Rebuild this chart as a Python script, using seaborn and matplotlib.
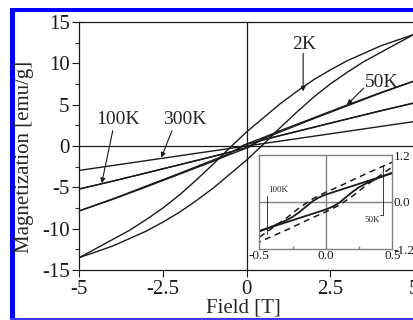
import matplotlib
matplotlib.use("Agg")
import matplotlib.pyplot as plt
import seaborn as sns
import pandas as pd
from matplotlib.patches import Rectangle
from matplotlib.ticker import MultipleLocator, FixedLocator

# ---------------- data ----------------
field_2k_down = [5, 4.5, 4, 3.5, 3, 2.5, 2, 1.5, 1, 0.5, 0, -0.5, -1, -1.5, -2, -2.5, -3, -3.5, -4, -4.5, -5]
m_2k_down = [13.5, 12.8, 12.1, 11.2, 10.3, 9.2, 8.0, 6.6, 5.1, 3.4, 1.7, -0.2, -2.2, -4.1, -5.9, -7.5, -8.9, -10.2, -11.3, -12.4, -13.5]
field_2k_up = [-5, -4.5, -4, -3.5, -3, -2.5, -2, -1.5, -1, -0.5, 0, 0.5, 1, 1.5, 2, 2.5, 3, 3.5, 4, 4.5, 5]
m_2k_up = [-13.5, -12.8, -12.1, -11.2, -10.3, -9.2, -8.0, -6.6, -5.1, -3.4, -1.7, 0.2, 2.2, 4.1, 5.9, 7.5, 8.9, 10.2, 11.3, 12.4, 13.5]

field_50k_down = [5, 4, 3, 2, 1, 0.5, 0.3, 0.1, 0, -0.1, -0.2, -0.3, -0.5, -1, -2, -3, -4, -5]
m_50k_down = [7.85, 6.45, 4.95, 3.4, 1.85, 1.02, 0.72, 0.4, 0.25, 0.08, -0.15, -0.42, -0.9, -1.7, -3.3, -4.85, -6.4, -7.85]
field_50k_up = [-5, -4, -3, -2, -1, -0.5, -0.3, -0.1, 0, 0.1, 0.2, 0.3, 0.5, 1, 2, 3, 4, 5]
m_50k_up = [-7.85, -6.45, -4.95, -3.4, -1.85, -1.02, -0.72, -0.4, -0.25, -0.08, 0.15, 0.42, 0.9, 1.7, 3.3, 4.85, 6.4, 7.85]

field_100k_down = [5, 4, 3, 2, 1, 0.5, 0.4, 0.3, 0.2, 0.1, 0, -0.05, -0.1, -0.15, -0.2, -0.25, -0.3, -0.4, -0.5, -1, -2, -3, -4, -5]
m_100k_down = [5.2, 4.25, 3.25, 2.25, 1.25, 0.74, 0.63, 0.52, 0.41, 0.30, 0.19, 0.12, 0.02, -0.12, -0.26, -0.38, -0.47, -0.62, -0.75, -1.27, -2.27, -3.27, -4.25, -5.2]
field_100k_up = [-5, -4, -3, -2, -1, -0.5, -0.4, -0.3, -0.2, -0.1, 0, 0.05, 0.1, 0.15, 0.2, 0.25, 0.3, 0.4, 0.5, 1, 2, 3, 4, 5]
m_100k_up = [-5.2, -4.25, -3.25, -2.25, -1.25, -0.74, -0.63, -0.52, -0.41, -0.30, -0.19, -0.12, -0.02, 0.12, 0.26, 0.38, 0.47, 0.62, 0.75, 1.27, 2.27, 3.27, 4.25, 5.2]

field_300k = [-5, 0, 5]
m_300k = [-2.95, 0.0, 2.95]

main_xticks = [-5, -2.5, 0, 2.5, 5]
main_xticklabels = ["-5", "-2.5", "0", "2.5", "5"]
main_yticks = [-15, -10, -5, 0, 5, 10, 15]
inset_xticks = [-0.5, 0.0, 0.5]
inset_xticklabels = ["-0.5", "0.0", "0.5"]
inset_yticks = [-1.2, 0.0, 1.2]
inset_yticklabels = ["-1.2", "0.0", "1.2"]

# ---------------- style ----------------
sns.set_theme(style="white")
plt.rcParams["font.family"] = ["Liberation Serif", "DejaVu Serif"]
plt.rcParams["axes.unicode_minus"] = False

W, H = 414, 320
fig = plt.figure(figsize=(W / 100, H / 100), dpi=100)
fig.patch.set_facecolor("white")

# blue frame pieces
fig.patches.append(Rectangle((10 / W, 0), 5 / W, 1 - 8 / H, transform=fig.transFigure,
                             facecolor="#0000ff", edgecolor="none"))
fig.patches.append(Rectangle((10 / W, 1 - 12 / H), 1, 4 / H, transform=fig.transFigure,
                             facecolor="#0000ff", edgecolor="none"))
fig.patches.append(Rectangle((10 / W, 0.5 / H), 1, 1.2 / H, transform=fig.transFigure,
                             facecolor="#3a3aff", edgecolor="none"))

# main axes: x=-5 at px 79.3, x=5 at px ~413.5; y=15 at 22, y=-15 at 270
ax = fig.add_axes([79.3 / W, 50 / H, 334.6 / W, 248 / H])
ax.set_facecolor("white")

def draw(a, fx, my, **kw):
    sns.lineplot(x=fx, y=my, sort=False, estimator=None, ax=a, color="k", **kw)

ax.axhline(0, color="k", lw=0.9, zorder=1)
ax.axvline(0, color="k", lw=0.9, zorder=1)
for fx, my in [(field_2k_down, m_2k_down), (field_2k_up, m_2k_up),
               (field_50k_down, m_50k_down), (field_50k_up, m_50k_up),
               (field_100k_down, m_100k_down), (field_100k_up, m_100k_up),
               (field_300k, m_300k)]:
    draw(ax, fx, my, lw=1.0)

ax.set_xlim(-5, 5)
ax.set_ylim(-15, 15)
ax.set_xticks(main_xticks)
ax.set_xticklabels(main_xticklabels)
ax.set_yticks(main_yticks)
ax.set_yticklabels([str(v) for v in main_yticks])
ax.yaxis.set_minor_locator(MultipleLocator(2.5))
ax.tick_params(axis="both", which="major", direction="out", length=5, width=0.8,
               labelsize=15, pad=2, colors="k", bottom=True, left=True)
ax.tick_params(axis="y", which="minor", direction="out", length=3, width=0.8, left=True)
for s in ["left", "bottom", "top", "right"]:
    ax.spines[s].set_color("k")
    ax.spines[s].set_linewidth(0.9)
ax.set_xlabel("")
ax.set_ylabel("")

fig.text(243 / W, 1 - 308 / H, "Field [T]", ha="center", va="center", fontsize=15)
fig.text(25 / W, 1 - 157 / H, "Magnetization [emu/g]", ha="center", va="center",
         rotation=90, fontsize=15)

arrow = dict(arrowstyle="-|>", color="k", lw=0.8, mutation_scale=7, shrinkA=0, shrinkB=0)
ax.text(1.73, 12.3, "2K", ha="center", va="center", fontsize=14)
ax.annotate("", xy=(1.69, 6.6), xytext=(1.69, 11.2), arrowprops=arrow)
ax.text(4.03, 7.7, "50K", ha="center", va="center", fontsize=14)
ax.annotate("", xy=(3.0, 5.0), xytext=(3.5, 7.0), arrowprops=arrow)
ax.text(-3.83, 3.26, "100K", ha="center", va="center", fontsize=14)
ax.annotate("", xy=(-4.33, -4.5), xytext=(-4.0, 1.85), arrowprops=arrow)
ax.text(-1.84, 3.26, "300K", ha="center", va="center", fontsize=14)
ax.annotate("", xy=(-2.55, -1.4), xytext=(-2.23, 1.85), arrowprops=arrow)

# ---------------- inset ----------------
axi = fig.add_axes([259.3 / W, 71 / H, 133.2 / W, 94 / H], zorder=5)
axi.set_facecolor("white")
axi.axhline(0, color="#808080", lw=1.0, zorder=1)
axi.axvline(0, color="#808080", lw=1.0, zorder=1)
draw(axi, field_100k_down, m_100k_down, lw=1.3)
draw(axi, field_100k_up, m_100k_up, lw=1.3)
draw(axi, field_50k_down, m_50k_down, lw=1.1, dashes=(4, 3))
draw(axi, field_50k_up, m_50k_up, lw=1.1, dashes=(4, 3))
axi.set_xlim(-0.5, 0.5)
axi.set_ylim(-1.2, 1.2)
axi.set_xticks(inset_xticks)
axi.set_xticklabels(inset_xticklabels)
axi.set_yticks(inset_yticks)
axi.set_yticklabels(inset_yticklabels)
axi.xaxis.set_minor_locator(FixedLocator([-0.25, 0.25]))
axi.yaxis.tick_right()
axi.tick_params(axis="both", which="major", direction="in", length=0, labelsize=9.5,
                pad=1, colors="k")
axi.tick_params(axis="x", which="minor", direction="in", length=2, color="#808080",
                bottom=True)
for s in axi.spines.values():
    s.set_color("#808080")
    s.set_linewidth(1.0)
axi.set_xlabel("")
axi.set_ylabel("")
axi.text(-0.36, 0.31, "100K", ha="center", va="center", fontsize=6.5)
axi.plot([-0.44, -0.44], [0.15, -0.82], color="k", lw=0.6)
axi.text(0.35, -0.46, "50K", ha="center", va="center", fontsize=6.5)
axi.plot([0.43, 0.43, 0.405], [0.95, -0.32, -0.32], color="k", lw=0.6)

fig.savefig("out.png", dpi=100, facecolor="white")
